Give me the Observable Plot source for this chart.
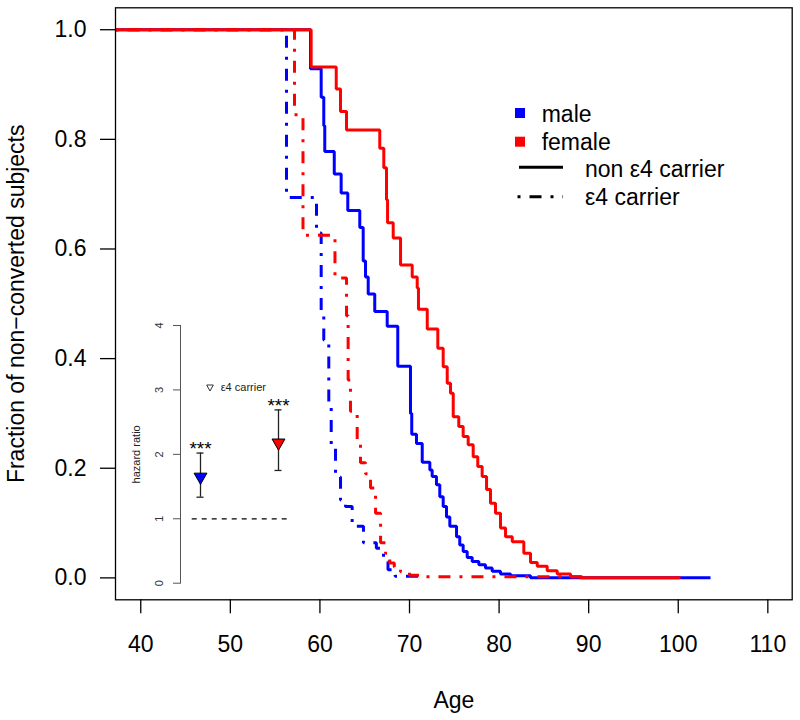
<!DOCTYPE html>
<html>
<head>
<meta charset="utf-8">
<script src="https://cdn.jsdelivr.net/npm/d3@7"></script>
<script src="https://cdn.jsdelivr.net/npm/@observablehq/plot@0.6"></script>
<style>
  body { margin: 0; background: white; }
  #wrap { position: relative; width: 800px; height: 720px; background: white; }
  #wrap svg { position: absolute; }
</style>
</head>
<body>
<div id="wrap"></div>
<script>
// ---------- data ----------
const xTicks = [40, 50, 60, 70, 80, 90, 100, 110];
const yTicks = [0, 0.2, 0.4, 0.6, 0.8, 1.0];
const xTitle = "Age";
const yTitle = "Fraction of non\u2212converted subjects";

const maleNonAge  = [37.18, 58.95, 60.14, 60.43, 60.54, 61.6, 62.37, 63.11, 64.45, 64.83, 65.09, 65.39, 66.12, 67.51, 68.69, 70.11, 70.25, 70.78, 71.42, 72.27, 72.53, 73.01, 73.38, 73.76, 74.13, 74.50, 75.25, 75.61, 75.99, 76.44, 77.00, 77.74, 78.48, 79.23, 80.16, 81.28, 83.51, 103.6];
const maleNonSurv = [1.0, 0.929, 0.877, 0.825, 0.778, 0.737, 0.702, 0.670, 0.639, 0.578, 0.549, 0.518, 0.486, 0.459, 0.386, 0.300, 0.262, 0.245, 0.211, 0.197, 0.185, 0.170, 0.148, 0.130, 0.111, 0.094, 0.075, 0.060, 0.048, 0.037, 0.030, 0.024, 0.018, 0.012, 0.007, 0.004, 0.0, 0.0];

const femaleNonAge  = [37.18, 59.02, 61.82, 62.30, 62.97, 66.68, 67.13, 67.43, 67.55, 68.18, 69.00, 70.30, 70.86, 71.00, 71.98, 73.16, 73.76, 74.21, 74.58, 74.88, 75.50, 75.99, 76.55, 77.11, 77.62, 78.11, 78.60, 79.04, 79.60, 80.16, 80.72, 81.47, 82.76, 83.51, 84.26, 85.37, 86.49, 87.97, 89.09, 100.25];
const femaleNonSurv = [1.0, 0.932, 0.892, 0.851, 0.817, 0.784, 0.748, 0.690, 0.648, 0.620, 0.571, 0.549, 0.529, 0.490, 0.454, 0.419, 0.385, 0.355, 0.337, 0.294, 0.276, 0.258, 0.243, 0.221, 0.203, 0.185, 0.161, 0.136, 0.118, 0.091, 0.075, 0.066, 0.045, 0.028, 0.021, 0.013, 0.007, 0.002, 0.0, 0.0];

const maleE4Age  = [37.18, 56.27, 59.62, 60.14, 60.43, 60.99, 61.26, 61.74, 62.30, 62.85, 63.60, 64.86, 66.30, 67.10, 67.60, 68.40, 71.00];
const maleE4Surv = [1.0, 0.694, 0.629, 0.484, 0.434, 0.316, 0.239, 0.184, 0.142, 0.130, 0.094, 0.064, 0.054, 0.030, 0.015, 0.003, 0.003];

const femaleE4Age  = [37.18, 57.16, 58.11, 61.68, 62.97, 63.15, 63.41, 64.16, 64.53, 65.09, 65.65, 66.21, 66.77, 67.33, 67.80, 68.30, 69.00, 70.00, 71.20, 90.0];
const femaleE4Surv = [1.0, 0.845, 0.625, 0.547, 0.478, 0.361, 0.304, 0.250, 0.210, 0.190, 0.164, 0.118, 0.064, 0.045, 0.027, 0.020, 0.011, 0.005, 0.002, 0.002];

// inset: hazard ratios of e4 carriers
const insetGroups = ["male", "female"];
const insetHR = [1.65, 2.18];
const insetLo = [1.335, 1.75];
const insetHi = [2.02, 2.69];
const insetStars = ["***", "***"];
const insetTicks = [0, 1, 2, 3, 4];
const insetYTitle = "hazard ratio";
const insetLegend = "\u03B54 carrier";

const legendLabels = ["male", "female", "non \u03B54 carrier", "\u03B54 carrier"];
// ---------- styles ----------
const fontFamily = '"Liberation Sans", Arial, Helvetica, sans-serif';
const colors = {male: "#0000ff", female: "#ff0000"};
const dashDot = "3,9,12,9";

const series = [
  {sex: "male",   carrier: false, age: maleNonAge,   surv: maleNonSurv},
  {sex: "male",   carrier: true,  age: maleE4Age,    surv: maleE4Surv},
  {sex: "female", carrier: false, age: femaleNonAge, surv: femaleNonSurv},
  {sex: "female", carrier: true,  age: femaleE4Age,  surv: femaleE4Surv}
];

const wrap = document.getElementById("wrap");

const main = Plot.plot({
  width: 800,
  height: 720,
  marginLeft: 115,
  marginRight: 8.3,
  marginTop: 7.3,
  marginBottom: 120.7,
  style: {fontFamily, fontSize: "23px", background: "white", color: "black", overflow: "visible"},
  x: {domain: [37.18, 112.72]},
  y: {domain: [-0.04, 1.04]},
  marks: [
    Plot.axisX({ticks: xTicks, tickSize: 14, tickPadding: 21.7, label: null, strokeWidth: 1.3, fontSize: 23}),
    Plot.axisY({ticks: yTicks, tickSize: 15, tickPadding: 14, tickFormat: d3.format(".1f"), label: null, strokeWidth: 1.3, fontSize: 23}),
    ...series.map(s => Plot.line(
      s.age.map((a, i) => ({age: a, surv: s.surv[i]})),
      {x: "age", y: "surv", curve: "step-after", stroke: colors[s.sex], strokeWidth: 3,
       strokeDasharray: s.carrier ? dashDot : null, strokeLinejoin: "miter", strokeLinecap: "butt", clip: true}
    )),
    Plot.frame({stroke: "black", strokeWidth: 1.3}),
    Plot.text([yTitle], {frameAnchor: "left", rotate: -90, dx: -108.2, lineAnchor: "top", textAnchor: "middle", fontSize: 23}),
    Plot.text([xTitle], {frameAnchor: "bottom", dy: 108.5, lineAnchor: "bottom", textAnchor: "middle", fontSize: 23})
  ]
});
main.style.left = "0px";
main.style.top = "0px";
wrap.appendChild(main);

// ---------- inset ----------
const insetRows = insetGroups.map((g, i) => ({g, hr: insetHR[i], lo: insetLo[i], hi: insetHi[i], stars: insetStars[i]}));
const inset = Plot.plot({
  width: 180,
  height: 300,
  marginLeft: 71.7,
  marginRight: 13.3,
  marginTop: 25,
  marginBottom: 17.3,
  style: {fontFamily, fontSize: "11px", background: "transparent", color: "black", overflow: "visible"},
  x: {type: "point", domain: insetGroups, padding: 0.107, axis: null},
  y: {domain: [0, 4], axis: null},
  marks: [
    Plot.frame({anchor: "left", dx: -11.7, stroke: "#555", strokeWidth: 1}),
    Plot.axisY({ticks: insetTicks, tickSize: 7, tickFormat: () => "", label: null, dx: -11.7, stroke: "#555"}),
    Plot.text(insetTicks, {y: d => d, text: d => String(d), frameAnchor: "left", rotate: -90, dx: -32.7, lineAnchor: "middle", textAnchor: "middle", fontSize: 11, fill: "#333"}),
    Plot.text([insetYTitle], {frameAnchor: "left", rotate: -90, dx: -55.5, lineAnchor: "middle", textAnchor: "middle", fontSize: 11, fill: "#222"}),
    Plot.ruleY([1], {stroke: "black", strokeWidth: 1.2, strokeDasharray: "5,5"}),
    Plot.ruleX(insetRows, {x: "g", y1: "lo", y2: "hi", stroke: "#222", strokeWidth: 1.3}),
    Plot.ruleY(insetRows, {y: "lo", x1: "g", x2: "g", insetLeft: -3.5, insetRight: -3.5, stroke: "#222", strokeWidth: 1.3}),
    Plot.ruleY(insetRows, {y: "hi", x1: "g", x2: "g", insetLeft: -3.5, insetRight: -3.5, stroke: "#222", strokeWidth: 1.3}),
    Plot.dot(insetRows, {x: "g", y: "hr", symbol: "triangle", rotate: 180, r: 4.8, fill: d => colors[d.g], stroke: "black", strokeWidth: 1}),
    Plot.text(insetRows, {x: "g", y: "hi", text: "stars", dy: 2, lineAnchor: "bottom", fontSize: 19, fill: "black"})
  ]
});
inset.style.left = "120px";
inset.style.top = "300px";
wrap.appendChild(inset);

// ---------- legends (overlay) ----------
const leg = d3.create("svg")
  .attr("width", 800).attr("height", 720)
  .style("left", "0px").style("top", "0px").style("pointer-events", "none")
  .style("font-family", fontFamily);

leg.append("rect").attr("x", 515).attr("y", 108).attr("width", 10).attr("height", 10).attr("fill", colors.male);
leg.append("rect").attr("x", 515).attr("y", 136.7).attr("width", 10).attr("height", 10).attr("fill", colors.female);
leg.append("line").attr("x1", 519).attr("x2", 563).attr("y1", 167.3).attr("y2", 167.3)
  .attr("stroke", "black").attr("stroke-width", 3);
leg.append("line").attr("x1", 517.5).attr("x2", 563).attr("y1", 196.7).attr("y2", 196.7)
  .attr("stroke", "black").attr("stroke-width", 3).attr("stroke-dasharray", dashDot);
const legX = [541.7, 541.7, 585, 585];
const legY = [121.7, 150, 176.5, 204.5];
legendLabels.forEach((t, i) => {
  leg.append("text").attr("x", legX[i]).attr("y", legY[i]).attr("font-size", 23).attr("fill", "black").text(t);
});

// inset legend
leg.append("path").attr("d", "M206.7,385 L213.3,385 L210,391 Z").attr("fill", "none").attr("stroke", "black").attr("stroke-width", 0.8);
leg.append("text").attr("x", 220.7).attr("y", 391).attr("font-size", 11).attr("fill", "#222").text(insetLegend);

wrap.appendChild(leg.node());
</script>
</body>
</html>
